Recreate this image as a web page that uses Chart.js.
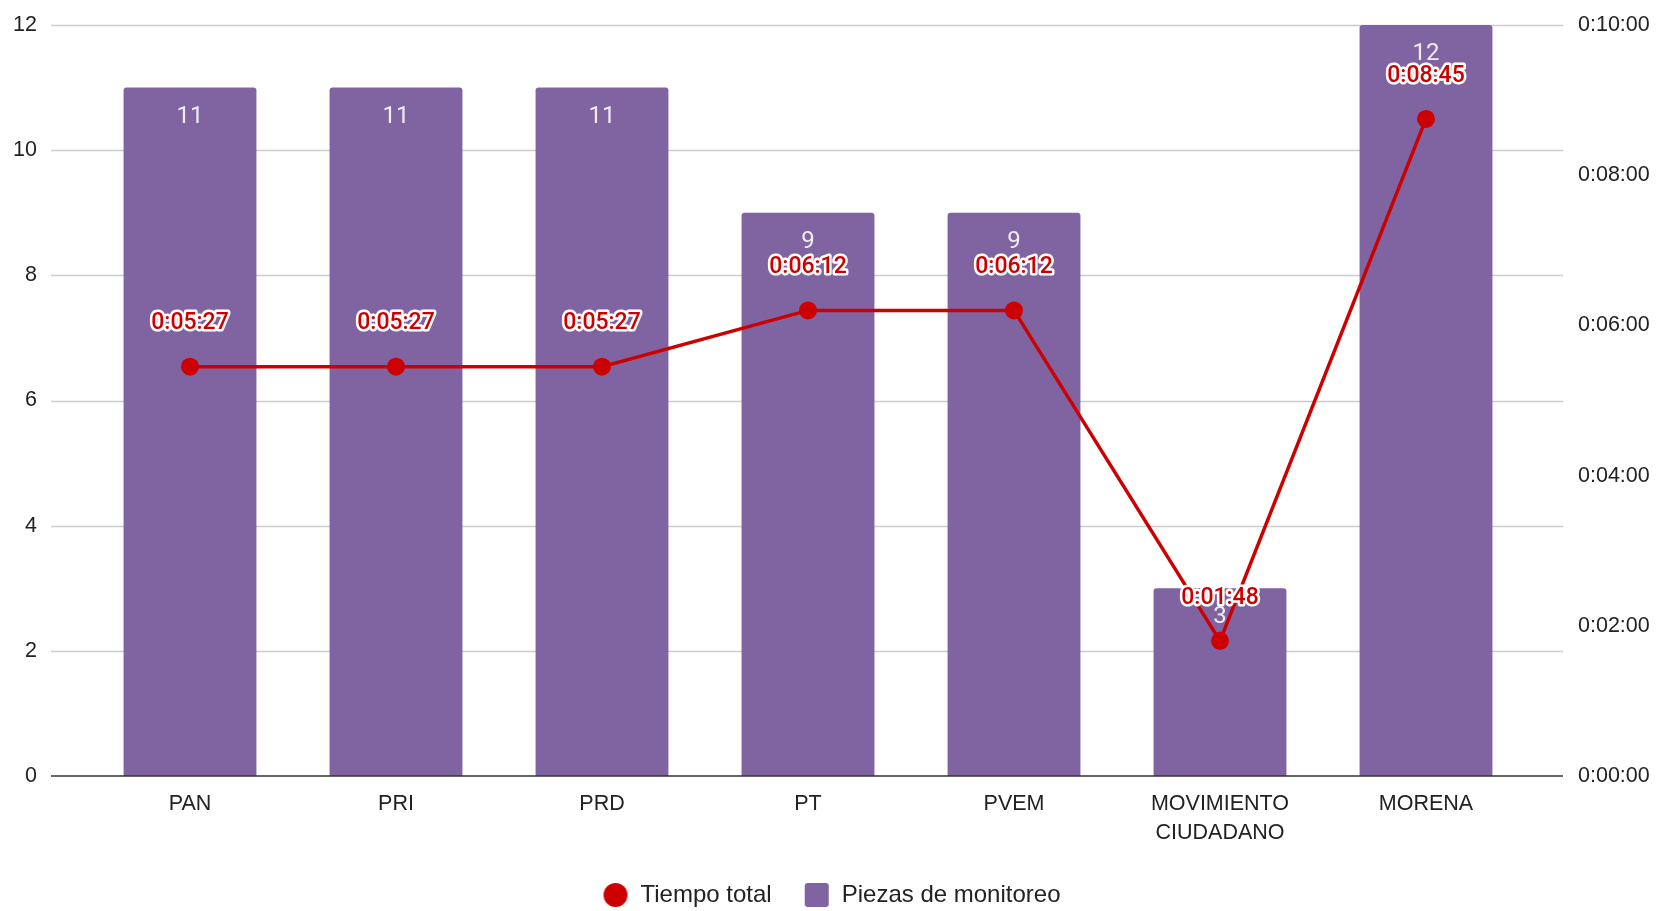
<!DOCTYPE html>
<html><head><meta charset="utf-8">
<script src="https://cdn.jsdelivr.net/npm/chart.js@4.4.1/dist/chart.umd.min.js"></script>
<style>html,body{margin:0;padding:0;background:#fff;overflow:hidden}</style>
</head><body>
<canvas id="c" width="1663" height="911"></canvas>
<script>
const categories = ['PAN', 'PRI', 'PRD', 'PT', 'PVEM', ['MOVIMIENTO', 'CIUDADANO'], 'MORENA'];
const piezas = [11, 11, 11, 9, 9, 3, 12];
const tiempoSeg = [327, 327, 327, 372, 372, 108, 525];
const leftTickStep = 2;
const leftMax = 12;
const rightTickStep = 120;
const rightMax = 600;
const seriesNames = ['Tiempo total', 'Piezas de monitoreo'];

const RED = '#cc0000';
const PURPLE = '#8064a2';
const TXT = '#222222';
const AXFONT = {family: '"Liberation Sans", Arial, sans-serif', size: 21.5, lineHeight: 1.33};

function fmt(s) {
  const h = Math.floor(s / 3600), m = Math.floor((s % 3600) / 60), sec = Math.round(s % 60);
  return h + ':' + String(m).padStart(2, '0') + ':' + String(sec).padStart(2, '0');
}
function icon(kind, color, size) {
  const c = document.createElement('canvas');
  c.width = size + 2; c.height = size + 2;
  const g = c.getContext('2d');
  g.fillStyle = color;
  g.beginPath();
  const m = (size + 2) / 2;
  if (kind === 'circle') g.arc(m, m, size / 2, 0, Math.PI * 2);
  else g.roundRect(1, 1, size, size, 3);
  g.fill();
  return c;
}
function fixV(w) {
  return function (s) { s.width = w; s.paddingTop = 10; s.paddingBottom = 10; };
}

const gridPlugin = {
  id: 'gridExt',
  beforeDatasetsDraw(chart) {
    const y = chart.scales.y, a = chart.chartArea, ctx = chart.ctx;
    ctx.save();
    y.ticks.forEach(t => {
      if (t.value === 0) return;
      const py = Math.round(y.getPixelForValue(t.value)) + 0.5;
      ctx.strokeStyle = '#cccccc';
      ctx.lineWidth = 1.3;
      ctx.beginPath(); ctx.moveTo(a.left - 36, py); ctx.lineTo(a.right + 34, py); ctx.stroke();
    });
    ctx.restore();
  },
  afterDatasetDraw(chart, args) {
    if (args.index !== 1) return;
    const ctx = chart.ctx, a = chart.chartArea, y = chart.scales.y;
    const meta = args.meta;
    ctx.save();
    const py = y.getPixelForValue(0);
    ctx.strokeStyle = '#333333';
    ctx.lineWidth = 1.6;
    ctx.beginPath(); ctx.moveTo(a.left - 36, py); ctx.lineTo(a.right + 34, py); ctx.stroke();
    ctx.font = '24px Roboto, "Liberation Sans", sans-serif';
    ctx.fillStyle = 'rgba(255,255,255,0.88)';
    ctx.textAlign = 'center';
    ctx.textBaseline = 'middle';
    meta.data.forEach((bar, i) => {
      ctx.fillText(String(piezas[i]), bar.x, bar.y + 29);
    });
    ctx.restore();
  },
  afterDatasetsDraw(chart) {
    const ctx = chart.ctx;
    const meta = chart.getDatasetMeta(0);
    ctx.save();
    ctx.font = '500 23px Roboto, "Liberation Sans", sans-serif';
    ctx.textAlign = 'center';
    ctx.textBaseline = 'middle';
    ctx.lineJoin = 'round';
    meta.data.forEach((pt, i) => {
      const txt = fmt(tiempoSeg[i]);
      ctx.strokeStyle = '#ffffff';
      ctx.lineWidth = 5;
      ctx.strokeText(txt, pt.x, pt.y - 43);
      ctx.fillStyle = RED;
      ctx.fillText(txt, pt.x, pt.y - 43);
    });
    ctx.restore();
  }
};

new Chart(document.getElementById('c'), {
  data: {
    labels: categories,
    datasets: [
      {
        type: 'line', label: seriesNames[0], data: tiempoSeg, yAxisID: 'y1',
        borderColor: RED, backgroundColor: RED, borderWidth: 3.5,
        pointRadius: 9, pointBackgroundColor: RED, pointBorderWidth: 0, tension: 0
      },
      {
        type: 'bar', label: seriesNames[1], data: piezas, yAxisID: 'y',
        backgroundColor: PURPLE, categoryPercentage: 1, barPercentage: 0.645,
        borderRadius: {topLeft: 3, topRight: 3, bottomLeft: 0, bottomRight: 0}, borderSkipped: 'start'
      }
    ]
  },
  options: {
    responsive: false, animation: false, devicePixelRatio: 1,
    layout: {padding: {top: 25, left: 0, right: 0, bottom: 0}},
    plugins: {
      tooltip: {enabled: false},
      legend: {
        position: 'bottom', maxHeight: 60,
        labels: {
          usePointStyle: true, pointStyleWidth: 26, boxHeight: 24, padding: 32,
          color: TXT, font: {family: AXFONT.family, size: 24},
          generateLabels(chart) {
            return [
              {text: seriesNames[0], pointStyle: icon('circle', RED, 24), fillStyle: RED, strokeStyle: RED, lineWidth: 0, datasetIndex: 0, hidden: false, fontColor: TXT},
              {text: seriesNames[1], pointStyle: icon('rect', PURPLE, 24), fillStyle: PURPLE, strokeStyle: PURPLE, lineWidth: 0, datasetIndex: 1, hidden: false, fontColor: TXT}
            ];
          }
        }
      }
    },
    scales: {
      x: {
        offset: true,
        grid: {display: false, drawTicks: false}, border: {display: false},
        ticks: {color: TXT, font: AXFONT, padding: 14, maxRotation: 0, autoSkip: false},
        afterFit(s) { s.height = 75; s.paddingLeft = 0; s.paddingRight = 0; }
      },
      y: {
        position: 'left', min: 0, max: leftMax,
        grid: {display: false, drawTicks: false}, border: {display: false},
        ticks: {stepSize: leftTickStep, color: TXT, font: AXFONT, padding: 50},
        afterFit: fixV(87)
      },
      y1: {
        position: 'right', min: 0, max: rightMax,
        grid: {display: false, drawTicks: false}, border: {display: false},
        ticks: {stepSize: rightTickStep, color: TXT, font: AXFONT, padding: 49, callback: v => fmt(v)},
        afterFit: fixV(134)
      }
    }
  },
  plugins: [gridPlugin]
});
</script>
</body></html>
